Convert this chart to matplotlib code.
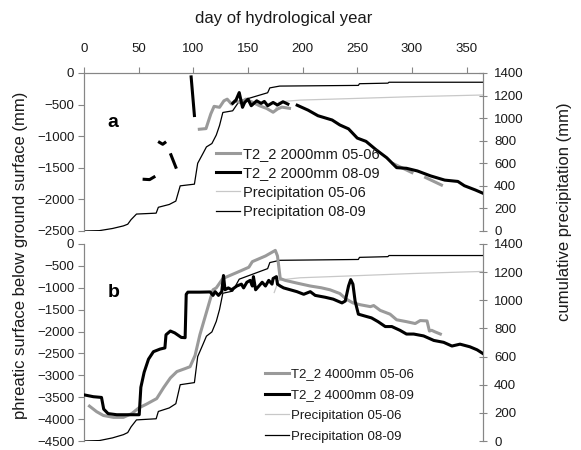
import matplotlib
matplotlib.use("Agg")
import matplotlib.pyplot as plt
import numpy as np

plt.rcParams["font.family"] = ["Liberation Sans", "DejaVu Sans"]

nan = np.nan

# cumulative precipitation (mm), same series drawn in both panels
precip_0809_day = [0, 14, 26, 36, 40, 43, 48, 66, 68, 78, 84, 88, 101, 104, 109, 112, 117,
                   121, 124, 127, 136, 142, 168, 170, 179, 251, 252, 278, 279, 365]
precip_0809_mm = [0, 3, 22, 45, 60, 100, 150, 158, 210, 235, 265, 400, 415, 600, 690, 745, 775,
                  850, 935, 1050, 1065, 1150, 1225, 1268, 1284, 1290, 1305, 1310, 1318, 1318]

precip_0506_day = [174, 178, 185, 198, 250, 300, 365]
precip_0506_mm = [1055, 1140, 1150, 1160, 1175, 1190, 1205]

# panel a: T2_2 2000mm
a_0506_day = [105.5, 111.6, 116, 119, 124, 128, 131, 135, 138, 143, 148, 155, 160.5, 167, 173,
              177, 181, 188, nan, 283, 300, nan, 312.5, 327]
a_0506_mm = [-890, -880, -647, -528, -543, -440, -414, -492, -440, -470, -414, -470, -518, -560,
             -621, -570, -540, -559, nan, -1435, -1576, nan, -1654, -1773]

a_0809_day = [55, 60, 64, nan, 69, 72, 74, nan, 79.5, 84, nan, 98, 101, nan,
              136, 139, 142, 145, 147, 150, 153, 158, 162, 165, 168, 173, 177, 182, 186.5, nan,
              195, 205, 214, 227, 234, 242, 250, 258, 267, 277, 286, 295, 305, 317, 330, 342,
              348, 358, 365]
a_0809_mm = [-1682, -1687, -1646, nan, -1097, -1128, -1102, nan, -1294, -1491, nan, -62, -673, nan,
             -480, -430, -310, -543, -466, -414, -518, -440, -481, -450, -518, -466, -507, -455,
             -492, nan,
             -510, -588, -676, -744, -822, -884, -1030, -1082, -1212, -1342, -1498, -1508, -1550,
             -1628, -1695, -1716, -1784, -1851, -1903]

# panel b: T2_2 4000mm
b_0506_day = [5, 11.6, 17.7, 27, 36, 43.7, 50, 57, 66.5, 73, 79, 85, 92.5, 97, 101.6, 106, 109,
              114, 118, 121, 127, 135, 143, 150.8, 154, 158, 166, 175, 177, 179.5, 184, 196,
              207, 217, 225, 234, 240, 246, 253, 262, 265, 271, 280, 286, 295, 303, 307.6,
              313.8, 316, 318, 321, 326]
b_0506_mm = [-3703, -3831, -3917, -3960, -3960, -3874, -3746, -3660, -3531, -3274, -3060, -2914,
             -2846, -2803, -2546, -2074, -1817, -1389, -1046, -1003, -789, -703, -617, -531, -403,
             -360, -274, -146, -274, -789, -831, -900, -960, -1000, -1046, -1131, -1260, -1346,
             -1389, -1431, -1406, -1517, -1603, -1731, -1774, -1817, -1749, -1757, -1988, -1971,
             -2006, -2057]

b_0809_day = [0, 8.5, 16, 18, 22, 30, 50.5, 52, 55, 59, 63.5, 69.6, 74, 75, 79, 83, 89, 92.5,
              93.5, 95, 106, 115.4, 118, 120, 123, 126, 127.6, 129, 132, 135, 139.8, 144, 146,
              149, 152, 154, 155, 157, 160, 163, 166, 169, 172, 173, 176, 177, 179.5, 182.6,
              188.7, 194.8, 201, 207, 211.5, 220.7, 228, 236, 239, 242, 244, 246, 248, 251, 257,
              263, 269, 275.6, 281.6, 289, 295, 301.6, 310.7, 320, 329, 336.6, 344, 353, 359.6,
              365]
b_0809_mm = [-3446, -3488, -3505, -3771, -3874, -3900, -3900, -3274, -2931, -2631, -2460, -2400,
             -2374, -2074, -1988, -2031, -2134, -2140, -1150, -1100, -1100, -1095, -1174, -1089,
             -1174, -1089, -720, -1046, -1003, -1046, -960, -917, -1003, -874, -831, -960, -746,
             -1046, -960, -874, -960, -831, -917, -788, -746, -917, -960, -1003, -1046, -1089,
             -1149, -1089, -1174, -1217, -1260, -1346, -1303, -960, -814, -917, -1303, -1603,
             -1646, -1688, -1774, -1886, -1886, -1971, -2057, -2057, -2100, -2203, -2246, -2331,
             -2288, -2348, -2417, -2503]

GRAY = "#9a9a9a"
LIGHT = "#c8c8c8"
AXC = "#868686"
TXT = "#1a1a1a"
TICK_FS = 9.5

fig = plt.figure(figsize=(5.81, 4.5), dpi=100)
ax_a = fig.add_axes([0.1446, 0.4867, 0.6867, 0.3511])
ax_b = fig.add_axes([0.1446, 0.02, 0.6867, 0.4378])


def style_axes(ax, ax2, ymin, top_ticks):
    ax.set_xlim(0, 365)
    ax.set_ylim(ymin, 0)
    ax.set_yticks(np.arange(ymin, 1, 500))
    ax2.set_ylim(0, 1400)
    ax2.set_yticks(np.arange(0, 1401, 200))
    for a in (ax, ax2):
        a.patch.set_visible(False)
        for s in a.spines.values():
            s.set_color(AXC)
            s.set_linewidth(0.8)
        a.spines["bottom"].set_visible(False)
        a.spines["top"].set_visible(top_ticks)
    ax.tick_params(axis="y", direction="out", length=4, color=AXC, labelsize=TICK_FS,
                   labelcolor=TXT, pad=3)
    ax2.tick_params(axis="y", direction="inout", length=6, color=AXC, labelsize=TICK_FS,
                    labelcolor=TXT, pad=5)
    ax2.tick_params(axis="x", which="both", bottom=False, top=False,
                    labelbottom=False, labeltop=False)
    if top_ticks:
        ax.set_xticks(np.arange(0, 351, 50))
        ax.xaxis.tick_top()
        ax.tick_params(axis="x", direction="out", length=4, color=AXC, labelsize=TICK_FS,
                       labelcolor=TXT, pad=9, bottom=False)
    else:
        ax.tick_params(axis="x", which="both", bottom=False, top=False,
                       labelbottom=False, labeltop=False)


# ---- panel a
ax2_a = ax_a.twinx()
style_axes(ax_a, ax2_a, -2500, True)
p1 = ax2_a.plot(precip_0506_day, precip_0506_mm, color=LIGHT, lw=0.9,
                label="Precipitation 05-06")[0]
p2 = ax2_a.plot(precip_0809_day, precip_0809_mm, color="black", lw=0.9,
                label="Precipitation 08-09")[0]
l1 = ax2_a.plot([], [], color=GRAY, lw=2.2, label="T2_2 2000mm 05-06")[0]
l2 = ax2_a.plot([], [], color="black", lw=2.2, label="T2_2 2000mm 08-09")[0]
# water level lines drawn on another twin so they sit above precipitation
ax3_a = ax_a.twinx()
ax3_a.set_ylim(-2500, 0)
ax3_a.axis("off")
ax3_a.plot(a_0506_day, a_0506_mm, color=GRAY, lw=2.2)
ax3_a.plot(a_0809_day, a_0809_mm, color="black", lw=2.2)
ax3_a.set_xlim(0, 365)
ax3_a.text(26.5, -790, "a", fontsize=14, fontweight="bold", ha="center", va="center")
ax3_a.legend(handles=[l1, l2, p1, p2], loc="upper left", bbox_to_anchor=(0.315, 0.57),
             frameon=False, fontsize=10.5, handlelength=1.7, handletextpad=0.15,
             labelspacing=0.37, borderaxespad=0, labelcolor=TXT)

# ---- panel b
ax2_b = ax_b.twinx()
style_axes(ax_b, ax2_b, -4500, False)
q1 = ax2_b.plot(precip_0506_day, precip_0506_mm, color=LIGHT, lw=0.9,
                label="Precipitation 05-06")[0]
q2 = ax2_b.plot(precip_0809_day, precip_0809_mm, color="black", lw=0.9,
                label="Precipitation 08-09")[0]
m1 = ax2_b.plot([], [], color=GRAY, lw=2.2, label="T2_2 4000mm 05-06")[0]
m2 = ax2_b.plot([], [], color="black", lw=2.2, label="T2_2 4000mm 08-09")[0]
ax3_b = ax_b.twinx()
ax3_b.set_ylim(-4500, 0)
ax3_b.axis("off")
ax3_b.plot(b_0506_day, b_0506_mm, color=GRAY, lw=2.2)
ax3_b.plot(b_0809_day, b_0809_mm, color="black", lw=2.2)
ax3_b.set_xlim(0, 365)
ax3_b.text(27, -1100, "b", fontsize=14, fontweight="bold", ha="center", va="center")
ax3_b.legend(handles=[m1, m2, q1, q2], loc="upper left", bbox_to_anchor=(0.44, 0.396),
             frameon=False, fontsize=9.5, handlelength=1.8, handletextpad=0.15,
             labelspacing=0.64, borderaxespad=0, labelcolor=TXT)

fig.text(0.4875, 0.96, "day of hydrological year", ha="center", va="center",
         fontsize=12, color=TXT)
fig.text(0.035, 0.433, "phreatic surface below ground surface (mm)", rotation=90,
         ha="center", va="center", fontsize=12, color=TXT)
fig.text(0.972, 0.529, "cumulative precipitation (mm)", rotation=90,
         ha="center", va="center", fontsize=12, color=TXT)

fig.savefig("out.png", dpi=100)
